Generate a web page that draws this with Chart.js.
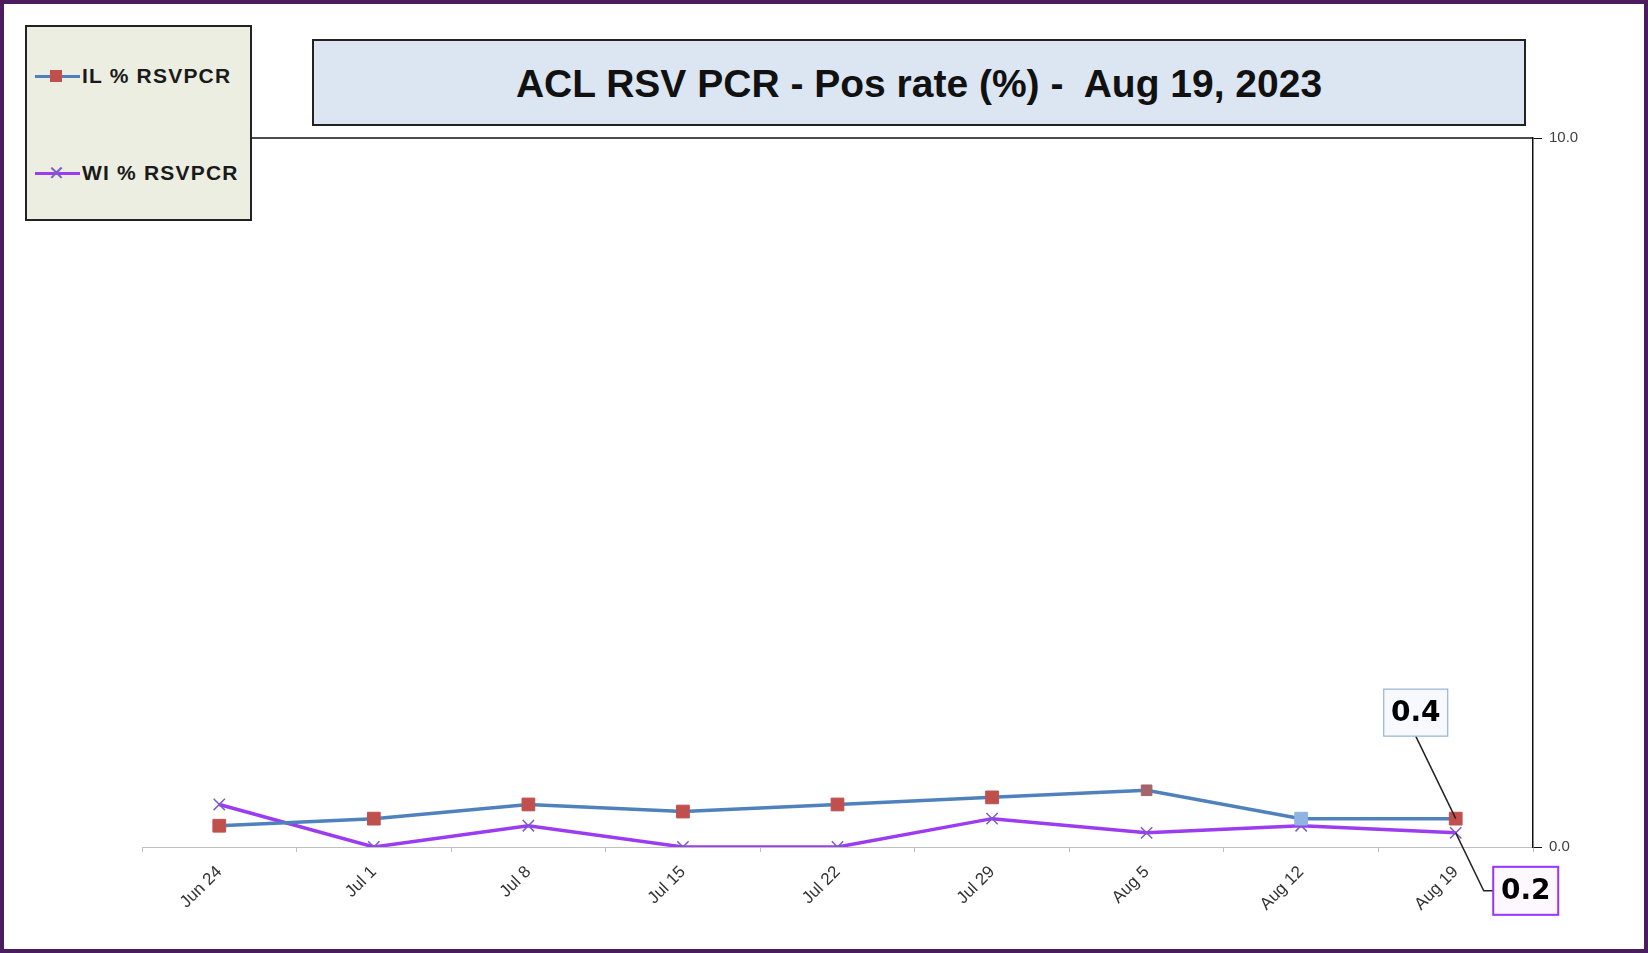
<!DOCTYPE html>
<html>
<head>
<meta charset="utf-8">
<script src="https://cdn.jsdelivr.net/npm/chart.js@4.4.0/dist/chart.umd.min.js"></script>
<style>
  html, body { margin: 0; padding: 0; background: #fff; }
  #wrap { position: relative; width: 1648px; height: 953px; overflow: hidden; font-family: Arial, "Liberation Sans", sans-serif; }
  #grafico { position: absolute; left: 0; top: 0; }
  #frame { position: absolute; left: 0; top: 0; width: 1648px; height: 953px; box-sizing: border-box; border: 4px solid #4b1d5e; pointer-events: none; }
  #titulo { position: absolute; left: 312px; top: 39px; width: 1214px; height: 87px; box-sizing: border-box; background: #dce6f2; border: 2px solid #222; display: flex; align-items: center; justify-content: center; font-weight: bold; font-size: 39px; color: #111; white-space: pre; padding-top: 2px; }
  #legenda { position: absolute; left: 25px; top: 25px; width: 227px; height: 196px; box-sizing: border-box; background: #eceee1; border: 2px solid #222; }
  .item { position: absolute; left: 8px; height: 26px; display: flex; align-items: center; font-weight: bold; font-size: 21px; color: #1a1a1a; letter-spacing: 1.2px; }
  .icone { position: relative; width: 45px; height: 26px; margin-right: 2px; }
  .icone .linha { position: absolute; left: 0; right: 0; top: 12px; height: 3px; }
  .icone .marca { position: absolute; left: 15px; top: 7px; width: 12px; height: 12px; }
  .icone .xis { position: absolute; left: 13px; top: 1px; font-size: 20px; font-weight: normal; line-height: 24px; }
</style>
</head>
<body>
<div id="wrap">
  <canvas id="grafico" width="1648" height="953"></canvas>
  <div id="titulo"></div>
  <div id="legenda"></div>
  <div id="frame"></div>
</div>
<script>
// dados
const semanas = ['Jun 24', 'Jul 1', 'Jul 8', 'Jul 15', 'Jul 22', 'Jul 29', 'Aug 5', 'Aug 12', 'Aug 19'];
const ilRsv = [0.3, 0.4, 0.6, 0.5, 0.6, 0.7, 0.8, 0.4, 0.4];
const wiRsv = [0.6, 0.0, 0.3, 0.0, 0.0, 0.4, 0.2, 0.3, 0.2];
const nomesSeries = ['IL % RSVPCR', 'WI % RSVPCR'];
const ticksY = [0, 10];
const tituloTexto = 'ACL RSV PCR - Pos rate (%) -  Aug 19, 2023';

window.addEventListener('load', () => {
  document.getElementById('titulo').textContent = tituloTexto;

  // legenda em HTML
  const legenda = document.getElementById('legenda');
  const estilos = [
    { linha: '#4f81bd', marca: '<div class="marca" style="background:#c0504d"></div>', top: 36 },
    { linha: '#9b3cf0', marca: '<div class="xis" style="color:#7a5cc8">&#x2715;</div>', top: 133 }
  ];
  nomesSeries.forEach((nome, i) => {
    const item = document.createElement('div');
    item.className = 'item';
    item.style.top = estilos[i].top + 'px';
    item.innerHTML = `<div class="icone"><div class="linha" style="background:${estilos[i].linha}"></div>${estilos[i].marca}</div><span>${nome}</span>`;
    legenda.appendChild(item);
  });

  // linha do topo da area do grafico
  const bordaTopo = {
    id: 'bordaTopo',
    afterDraw(chart) {
      const { ctx, chartArea } = chart;
      ctx.save();
      ctx.strokeStyle = '#111';
      ctx.lineWidth = 1.5;
      ctx.beginPath();
      ctx.moveTo(chartArea.left, chartArea.top);
      ctx.lineTo(chartArea.right, chartArea.top);
      ctx.stroke();
      ctx.restore();
    }
  };

  // rotulos do ultimo ponto
  const rotulos = {
    id: 'rotulos',
    afterDatasetsDraw(chart) {
      const { ctx } = chart;
      const cfg = [
        { dx: -40, dy: -106, w: 64, h: 47, borda: '#95b3d7', bw: 1.2, fundo: '#f7f9ff',
          guia: (p, b) => [[b.x, b.y + b.h / 2], [p.x, p.y]] },
        { dx: 70, dy: 58, w: 65, h: 48, borda: '#9933ff', bw: 2, fundo: '#fdf8ff',
          guia: (p, b) => [[p.x, p.y], [p.x + 28, b.y], [b.x - b.w / 2, b.y]] }
      ];
      chart.data.datasets.forEach((ds, i) => {
        const meta = chart.getDatasetMeta(i);
        const n = ds.data.length - 1;
        const pt = meta.data[n];
        const c = cfg[i];
        const box = { x: pt.x + c.dx, y: pt.y + c.dy, w: c.w, h: c.h };
        ctx.save();
        ctx.strokeStyle = '#222';
        ctx.lineWidth = 1.5;
        ctx.beginPath();
        c.guia(pt, box).forEach((q, k) => k ? ctx.lineTo(q[0], q[1]) : ctx.moveTo(q[0], q[1]));
        ctx.stroke();
        ctx.fillStyle = c.fundo;
        ctx.fillRect(box.x - c.w / 2, box.y - c.h / 2, c.w, c.h);
        ctx.strokeStyle = c.borda;
        ctx.lineWidth = c.bw;
        ctx.strokeRect(box.x - c.w / 2, box.y - c.h / 2, c.w, c.h);
        ctx.fillStyle = '#000';
        ctx.font = 'bold 28px "DejaVu Sans", Arial, sans-serif';
        ctx.textAlign = 'center';
        ctx.textBaseline = 'middle';
        ctx.fillText(ds.data[n].toFixed(1), box.x, box.y + 1);
        ctx.restore();
      });
    }
  };

  const ctx = document.getElementById('grafico').getContext('2d');
  new Chart(ctx, {
    type: 'line',
    data: {
      labels: semanas,
      datasets: [{
        label: nomesSeries[0],
        data: ilRsv,
        borderColor: '#4f81bd',
        borderWidth: 3.5,
        pointStyle: 'rect',
        pointRadius: [9, 9, 9, 9, 9, 9, 7.5, 9, 9],
        pointBackgroundColor: ['#c0504d', '#c0504d', '#c0504d', '#c0504d', '#c0504d', '#c0504d', '#a5636d', '#8fb4e3', '#c0504d'],
        pointBorderColor: ['#c0504d', '#c0504d', '#c0504d', '#c0504d', '#c0504d', '#c0504d', '#a5636d', '#8fb4e3', '#c0504d'],
        pointBorderWidth: 1,
        tension: 0
      }, {
        label: nomesSeries[1],
        data: wiRsv,
        borderColor: '#9b3cf0',
        borderWidth: 3.5,
        pointStyle: 'crossRot',
        pointRadius: 8,
        pointBorderColor: '#7a5cc8',
        pointBorderWidth: 1.5,
        tension: 0
      }]
    },
    options: {
      responsive: false,
      animation: false,
      layout: { padding: { left: 142, top: 138, right: 0, bottom: 0 } },
      plugins: {
        legend: { display: false },
        title: { display: false },
        tooltip: { enabled: false }
      },
      scales: {
        x: {
          offset: true,
          afterFit: (s) => { s.height = 953 - 847; },
          border: { color: '#bfbfbf', width: 1 },
          grid: { offset: true, drawOnChartArea: false, drawTicks: true, tickLength: 5, color: '#bfbfbf' },
          ticks: {
            maxRotation: 45, minRotation: 45, padding: 10,
            color: '#333',
            font: { family: 'Arial, "Liberation Sans", sans-serif', size: 17 }
          }
        },
        y: {
          position: 'right',
          min: 0,
          max: 10,
          afterFit: (s) => { s.width = 1648 - 1533; },
          afterBuildTicks: (s) => { s.ticks = ticksY.map(v => ({ value: v })); },
          border: { color: '#111', width: 1.5 },
          grid: { drawOnChartArea: false, drawTicks: true, tickLength: 9, color: '#111' },
          ticks: {
            padding: 7,
            color: '#404040',
            font: { family: 'Arial, "Liberation Sans", sans-serif', size: 15 },
            callback: (v) => Number(v).toFixed(1)
          }
        }
      }
    },
    plugins: [bordaTopo, rotulos]
  });
});
</script>
</body>
</html>
